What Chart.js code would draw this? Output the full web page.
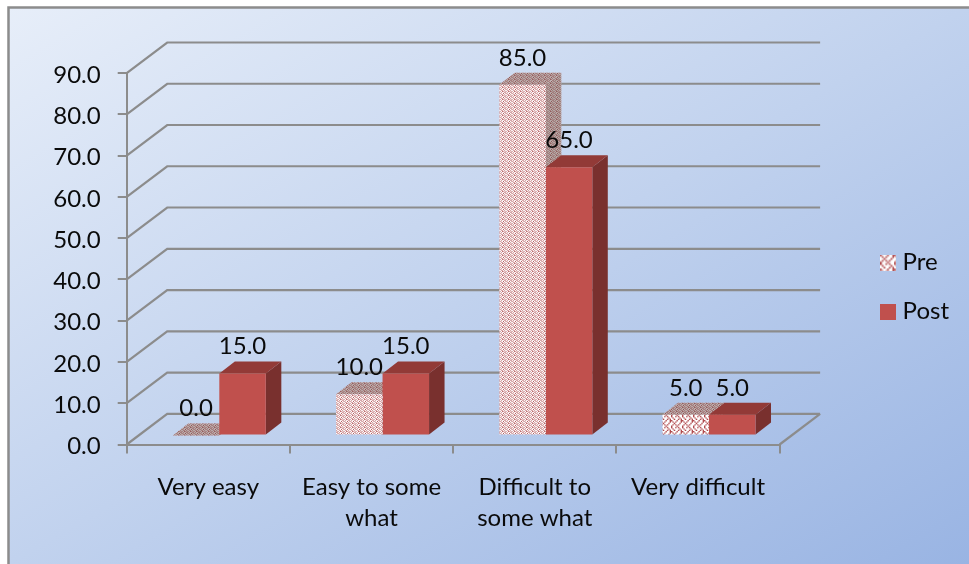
<!DOCTYPE html>
<html>
<head>
<meta charset="utf-8">
<style>
  html, body { margin: 0; padding: 0; background: #fff; }
  canvas { display: block; }
</style>
<script src="https://cdn.jsdelivr.net/npm/chart.js@4/dist/chart.umd.min.js"></script>
</head>
<body>
<canvas id="chart" width="969" height="564"></canvas>
<script>
// Difficulty ratings before and after, drawn as a pseudo-3D clustered column chart.
const categories = [['Very easy'], ['Easy to some', 'what'], ['Difficult to', 'some what'], ['Very difficult']];
const preValues = [0, 10, 85, 5];
const postValues = [15, 15, 65, 5];
const valueTickLabels = ['0.0', '10.0', '20.0', '30.0', '40.0', '50.0', '60.0', '70.0', '80.0', '90.0'];
const seriesNames = ['Pre', 'Post'];

const FONT = 'Lato, "Open Sans", sans-serif';
const FONT_SIZE = 24;
const AXIS_GREY = '#8c8c8c';
const INK = '#0a0a0a';

// Depth of the room behind the front plane, and where the columns stand inside it.
const WALL_DEPTH = { x: 40.5, y: -30.7 };
const COLUMN_SHIFT = { x: 11, y: -9 };
const COLUMN_DEPTH = { x: 15.5, y: -12 };

const POST_FACE = { front: '#c0504d', top: '#923a37', side: '#79302e' };

// Woven texture used for the "Pre" columns.
const WEAVE = [
  'X...X..X',
  '.X.X...X',
  '..X...X.',
  '.X.X.X..',
  'X...X...',
  'X..X.X..',
  '.X....X.',
  '..X..X.X'
];

function weaveTile(w, h, smooth) {
  const base = document.createElement('canvas');
  base.width = 8; base.height = 8;
  const b = base.getContext('2d');
  b.fillStyle = '#ffffff';
  b.fillRect(0, 0, 8, 8);
  b.fillStyle = '#b04a4d';
  WEAVE.forEach((row, y) => [...row].forEach((c, x) => { if (c === 'X') b.fillRect(x, y, 1, 1); }));
  const tile = document.createElement('canvas');
  tile.width = w; tile.height = h;
  const t = tile.getContext('2d');
  t.imageSmoothingEnabled = smooth;
  t.drawImage(base, 0, 0, w, h);
  return tile;
}

const ctx = document.getElementById('chart').getContext('2d');
const coarseWeave = ctx.createPattern(weaveTile(11, 11, true), 'repeat');
const fineWeave = ctx.createPattern(weaveTile(6, 4, true), 'repeat');
const preFronts = [fineWeave, fineWeave, fineWeave, coarseWeave];

function swatch(fill) {
  const c = document.createElement('canvas');
  c.width = 16; c.height = 16;
  const g = c.getContext('2d');
  g.fillStyle = fill || g.createPattern(weaveTile(14, 14, true), 'repeat');
  g.fillRect(0, 0, 16, 16);
  return c;
}

// Fixed-size empty layout box, used to reserve room around the plot.
function spacer(position, weight, size) {
  return {
    position, weight, fullSize: false,
    options: {},
    width: position === 'right' ? size : 0,
    height: position === 'top' ? size : 0,
    left: 0, right: 0, top: 0, bottom: 0,
    isHorizontal() { return position === 'top'; },
    update(w, h) {
      if (position === 'top') { this.width = w; this.height = size; }
      else { this.width = size; this.height = h; }
    },
    draw() {}
  };
}

// Top and side faces of one column, in the shifted column space.
function drawColumnFaces(c, bar, sideFill, topFill, shadeSide, shadeTop) {
  const l = bar.x - bar.width / 2, r = bar.x + bar.width / 2, t = bar.y, b = bar.base;
  const dx = COLUMN_DEPTH.x, dy = COLUMN_DEPTH.y;
  const face = (pts, fill, shade) => {
    c.beginPath();
    pts.forEach((p, k) => k ? c.lineTo(p[0], p[1]) : c.moveTo(p[0], p[1]));
    c.closePath();
    c.fillStyle = fill;
    c.fill();
    if (shade) { c.fillStyle = shade; c.fill(); }
  };
  face([[r, t], [r + dx, t + dy], [r + dx, b + dy], [r, b]], sideFill, shadeSide);
  face([[l, t], [l + dx, t + dy], [r + dx, t + dy], [r, t]], topFill, shadeTop);
}

const roomPlugin = {
  id: 'room',
  beforeInit(chart) {
    Chart.layouts.addBox(chart, spacer('top', 500, 63.2));
    Chart.layouts.addBox(chart, spacer('right', 500, 81));
  },
  // Panel fill and frame; the gradient axis keeps the two off-corners at the middle tone.
  beforeDraw(chart) {
    const c = chart.ctx;
    const x0 = 8, y0 = 7, w = 961, h = 557;
    const cx = x0 + w / 2, cy = y0 + h / 2;
    const k = (w * h) / (h * h + w * w);
    const g = c.createLinearGradient(cx - k * h, cy - k * w, cx + k * h, cy + k * w);
    g.addColorStop(0, '#e7eef9');
    g.addColorStop(0.5, '#c1d2ee');
    g.addColorStop(1, '#99b4e3');
    c.save();
    c.fillStyle = g;
    c.fillRect(x0, y0, w, h);
    c.strokeStyle = AXIS_GREY;
    c.lineWidth = 2.5;
    c.beginPath();
    c.moveTo(8.5, 564);
    c.lineTo(8.5, 7.5);
    c.lineTo(969, 7.5);
    c.stroke();
    c.restore();
  },
  // Walls and floor at every value tick, then the back faces of the "Pre" columns.
  beforeDatasetsDraw(chart) {
    const c = chart.ctx, y = chart.scales.y, area = chart.chartArea;
    c.save();
    c.strokeStyle = AXIS_GREY;
    c.lineWidth = 2.2;
    c.lineJoin = 'miter';
    y.ticks.forEach(t => {
      const py = y.getPixelForValue(t.value);
      c.beginPath();
      c.moveTo(area.left, py);
      c.lineTo(area.left + WALL_DEPTH.x, py + WALL_DEPTH.y);
      c.lineTo(area.right + WALL_DEPTH.x, py + WALL_DEPTH.y);
      c.stroke();
    });
    const floor = y.getPixelForValue(0);
    c.beginPath();
    c.moveTo(area.right, floor);
    c.lineTo(area.right + WALL_DEPTH.x, floor + WALL_DEPTH.y);
    c.stroke();
    c.translate(COLUMN_SHIFT.x, COLUMN_SHIFT.y);
    chart.getDatasetMeta(0).data.forEach(bar =>
      drawColumnFaces(c, bar, fineWeave, fineWeave, 'rgba(95,75,72,0.45)', 'rgba(95,70,66,0.42)'));
    c.restore();
  },
  // The library paints each front face with the column shift applied.
  beforeDatasetDraw(chart, args) {
    const c = chart.ctx;
    c.save();
    c.translate(COLUMN_SHIFT.x, COLUMN_SHIFT.y);
    if (args.index === 1) {
      args.meta.data.forEach(bar => drawColumnFaces(c, bar, POST_FACE.side, POST_FACE.top));
    }
  },
  afterDatasetDraw(chart) {
    chart.ctx.restore();
  },
  // Value labels sit above each column's front edge
  afterDatasetsDraw(chart) {
    const c = chart.ctx;
    c.save();
    c.font = FONT_SIZE + 'px ' + FONT;
    c.fillStyle = INK;
    c.textAlign = 'center';
    c.textBaseline = 'middle';
    chart.data.datasets.forEach((ds, di) => {
      chart.getDatasetMeta(di).data.forEach((bar, i) => {
        c.fillText(ds.data[i].toFixed(1), bar.x + COLUMN_SHIFT.x, bar.y + COLUMN_SHIFT.y - 27);
      });
    });
    c.restore();
  }
};

new Chart(ctx, {
  type: 'bar',
  data: {
    labels: categories,
    datasets: [
      { label: seriesNames[0], data: preValues, backgroundColor: preFronts, clip: false },
      { label: seriesNames[1], data: postValues, backgroundColor: POST_FACE.front, clip: false }
    ]
  },
  options: {
    responsive: false,
    animation: false,
    events: [],
    layout: { padding: { top: 10, left: 0, right: 10, bottom: 0 } },
    datasets: { bar: { categoryPercentage: 93 / 163.2, barPercentage: 1, borderWidth: 0 } },
    scales: {
      x: {
        afterFit(axis) { axis.height = 119.5; },
        grid: { color: AXIS_GREY, lineWidth: 2, drawOnChartArea: false, tickLength: 9, offset: true },
        border: { color: AXIS_GREY, width: 2 },
        ticks: { color: INK, font: { family: FONT, size: FONT_SIZE, lineHeight: 1.3 }, padding: 18, maxRotation: 0, autoSkip: false }
      },
      y: {
        min: 0, max: 90,
        afterFit(axis) { axis.width = 126.7; },
        grid: { color: AXIS_GREY, lineWidth: 2, drawOnChartArea: false, tickLength: 9 },
        border: { color: AXIS_GREY, width: 2 },
        ticks: {
          stepSize: 10,
          color: INK,
          font: { family: FONT, size: FONT_SIZE },
          padding: 17,
          labelOffset: 2,
          callback: (v, i) => valueTickLabels[i]
        }
      }
    },
    plugins: {
      tooltip: { enabled: false },
      legend: {
        position: 'right',
        align: 'center',
        labels: {
          color: INK,
          font: { family: FONT, size: FONT_SIZE },
          padding: 25,
          usePointStyle: true,
          pointStyleWidth: 5,
          generateLabels: () => seriesNames.map((name, i) => ({
            text: name,
            datasetIndex: i,
            fontColor: INK,
            pointStyle: swatch(i === 0 ? null : POST_FACE.front),
            lineWidth: 0,
            strokeStyle: 'transparent'
          }))
        }
      }
    }
  },
  plugins: [roomPlugin]
});
</script>
</body>
</html>
